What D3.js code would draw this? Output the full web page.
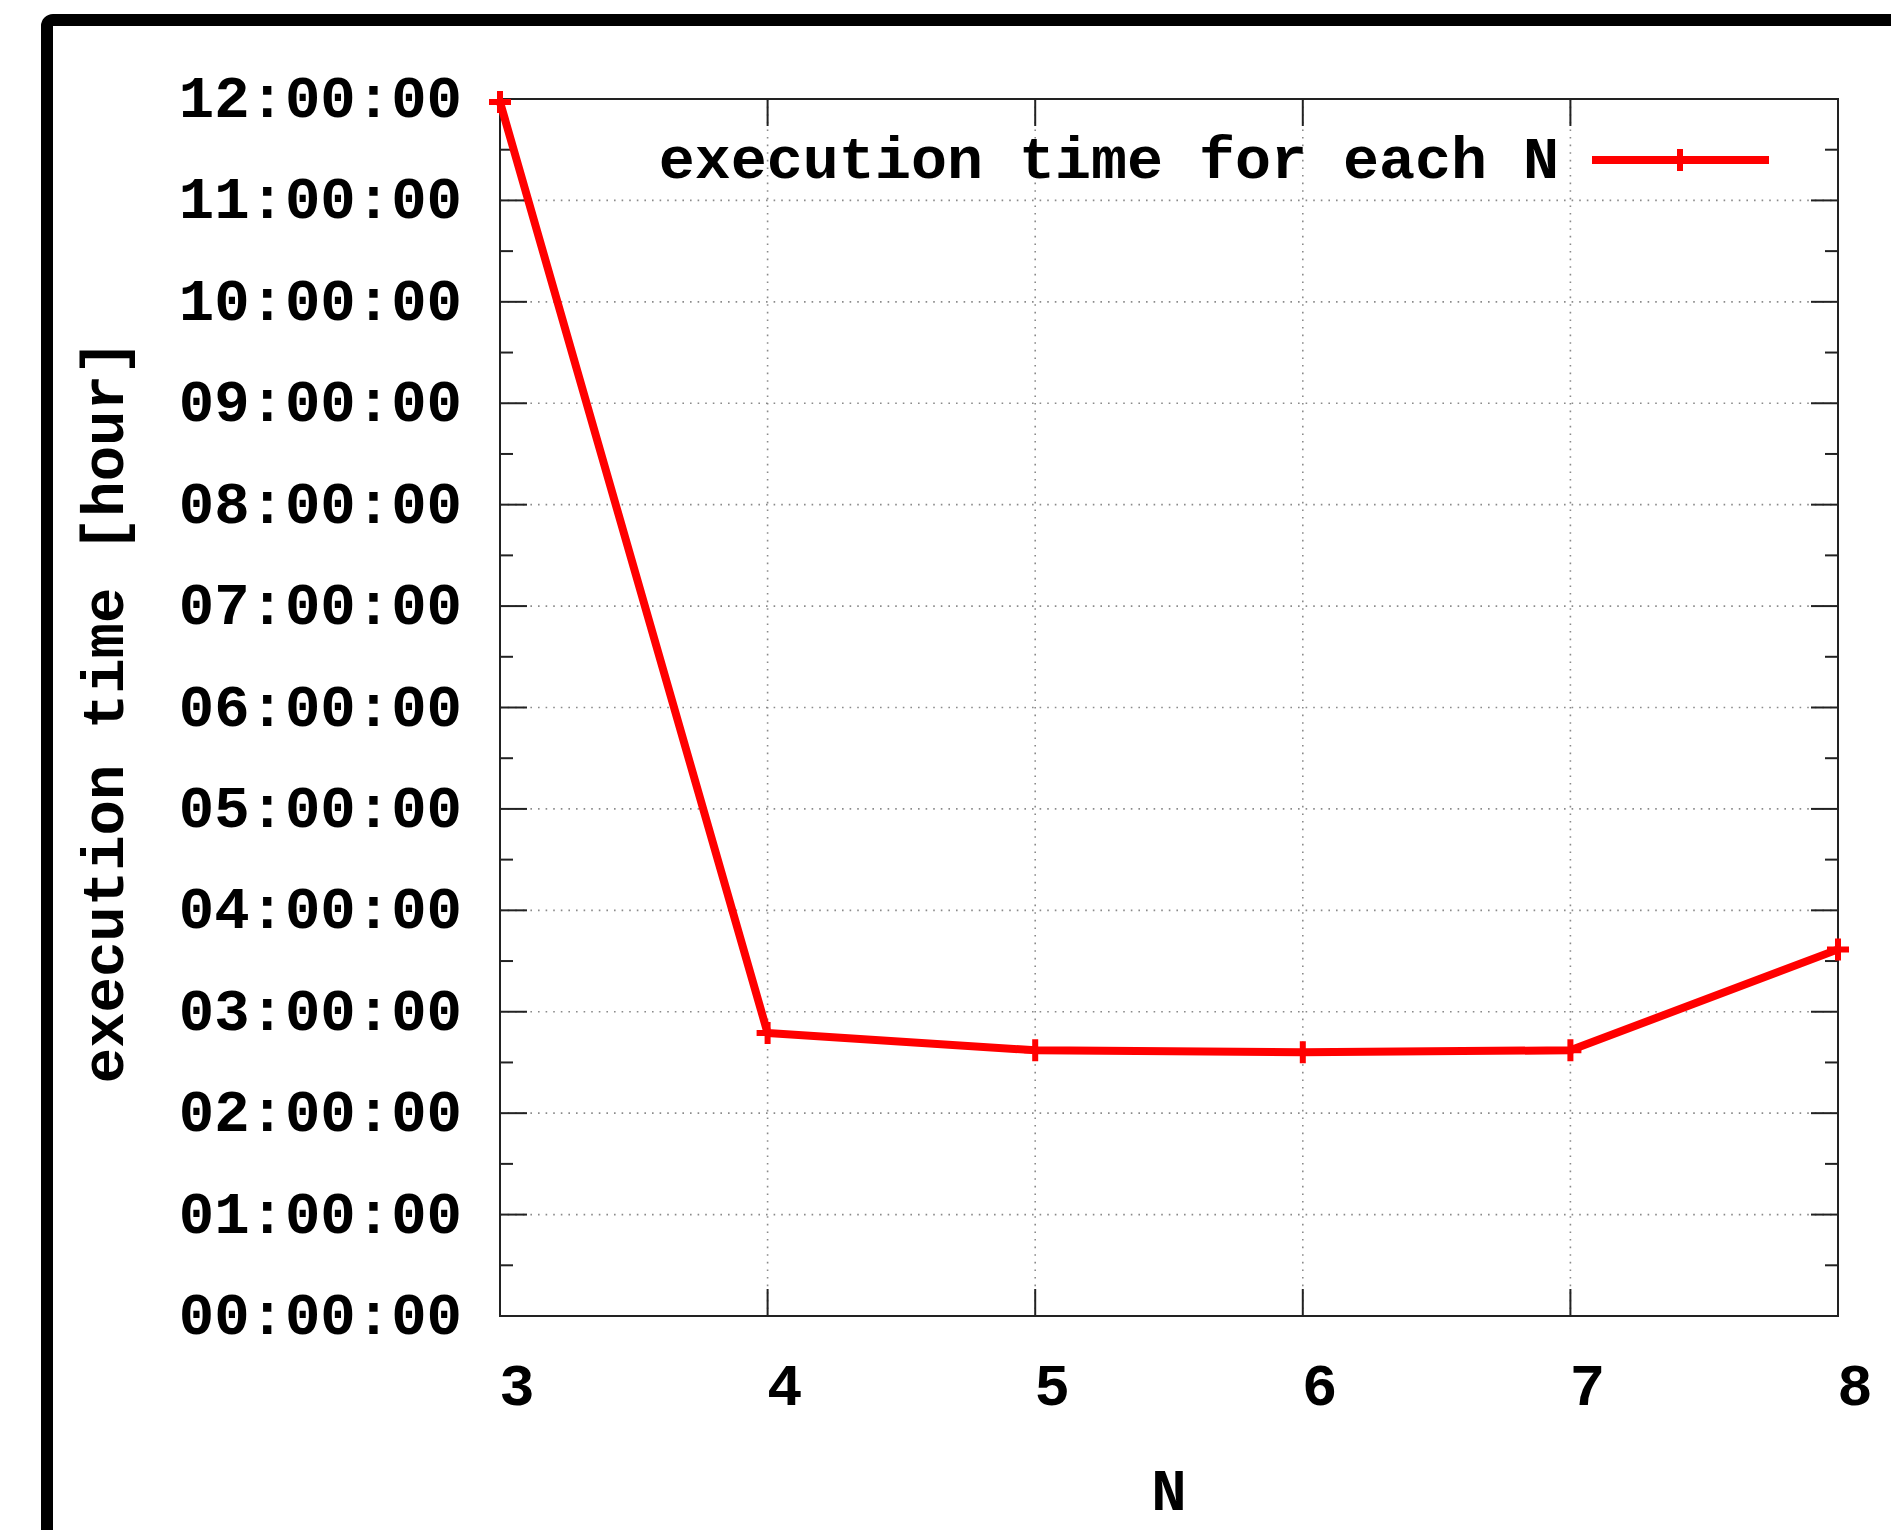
<!DOCTYPE html>
<html>
<head>
<meta charset="utf-8">
<script src="https://cdn.jsdelivr.net/npm/d3@7/dist/d3.min.js"></script>
<style>
  body { margin: 0; background: #fff; }
  text { font-family: "Liberation Mono", "Courier New", monospace; font-weight: bold; fill: #000; }
</style>
</head>
<body>
<div id="chart"></div>
<script>
// data (hours)
var nValues = [3, 4, 5, 6, 7, 8];
var execHours = [11.97, 2.79, 2.62, 2.60, 2.62, 3.615];
var yTickHours = [0, 1, 2, 3, 4, 5, 6, 7, 8, 9, 10, 11, 12];
var yMinorHours = [0.5, 1.5, 2.5, 3.5, 4.5, 5.5, 6.5, 7.5, 8.5, 9.5, 10.5, 11.5];
var xTickValues = [3, 4, 5, 6, 7, 8];
var seriesLabel = "execution time for each N";
var xTitle = "N";
var yTitle = "execution time [hour]";

var svgWidth = 1891;
var svgHeight = 1530;

var margin = { top: 99, right: 53, bottom: 214, left: 500 };
var width = svgWidth - margin.left - margin.right;
var height = svgHeight - margin.top - margin.bottom;

var svg = d3.select("#chart")
  .append("svg")
  .attr("width", svgWidth)
  .attr("height", svgHeight);

// outer frame, runs off the right and bottom edges
svg.append("rect")
  .attr("x", 47)
  .attr("y", 20)
  .attr("width", 2200)
  .attr("height", 2200)
  .attr("rx", 6)
  .attr("fill", "none")
  .attr("stroke", "#000")
  .attr("stroke-width", 12);

var chart = svg.append("g")
  .attr("transform", `translate(${margin.left}, ${margin.top})`);

var x = d3.scaleLinear().domain([3, 8]).range([0, width]);
var y = d3.scaleLinear().domain([0, 12]).range([height, 0]);

var fmtHour = d => String(d).padStart(2, "0") + ":00:00";
var majorLen = 27, minorLen = 13;

// dotted grid
var grid = chart.append("g")
  .attr("stroke", "#8a8a8a")
  .attr("stroke-width", 1.6)
  .attr("stroke-dasharray", "1.6,6");

grid.selectAll(".gy").data(yTickHours.slice(1, -1)).enter()
  .append("line")
  .attr("x1", 0).attr("x2", width)
  .attr("y1", d => y(d)).attr("y2", d => y(d));

grid.selectAll(".gx").data(xTickValues.slice(1, -1)).enter()
  .append("line")
  .attr("y1", 0).attr("y2", height)
  .attr("x1", d => x(d)).attr("x2", d => x(d));

// ticks on all four sides, pointing inward
var ticks = chart.append("g")
  .attr("stroke", "#222")
  .attr("stroke-width", 2);

[0, width].forEach(function(x0) {
  var dir = x0 === 0 ? 1 : -1;
  ticks.selectAll(null).data(yTickHours).enter()
    .append("line")
    .attr("x1", x0).attr("x2", x0 + dir * majorLen)
    .attr("y1", d => y(d)).attr("y2", d => y(d));
  ticks.selectAll(null).data(yMinorHours).enter()
    .append("line")
    .attr("x1", x0).attr("x2", x0 + dir * minorLen)
    .attr("y1", d => y(d)).attr("y2", d => y(d));
});

[0, height].forEach(function(y0) {
  var dir = y0 === 0 ? 1 : -1;
  ticks.selectAll(null).data(xTickValues).enter()
    .append("line")
    .attr("y1", y0).attr("y2", y0 + dir * majorLen)
    .attr("x1", d => x(d)).attr("x2", d => x(d));
});

// border
chart.append("rect")
  .attr("width", width)
  .attr("height", height)
  .attr("fill", "none")
  .attr("stroke", "#222")
  .attr("stroke-width", 2);

// tick labels
chart.selectAll(".ylab").data(yTickHours).enter()
  .append("text")
  .attr("x", -38)
  .attr("y", d => y(d) + 18)
  .attr("text-anchor", "end")
  .attr("font-size", "59px")
  .text(fmtHour);

chart.selectAll(".xlab").data(xTickValues).enter()
  .append("text")
  .attr("x", d => x(d) + 17)
  .attr("y", height + 89)
  .attr("text-anchor", "middle")
  .attr("font-size", "59px")
  .text(d => d);

// axis titles
chart.append("text")
  .attr("x", width / 2)
  .attr("y", height + 194)
  .attr("text-anchor", "middle")
  .attr("font-size", "59px")
  .text(xTitle);

chart.append("text")
  .attr("transform", `translate(${123 - margin.left}, ${height / 2 + 4}) rotate(-90)`)
  .attr("text-anchor", "middle")
  .attr("font-size", "59px")
  .text(yTitle);

// data line + points
var pts = nValues.map((n, i) => [n, execHours[i]]);
var line = d3.line().x(d => x(d[0])).y(d => y(d[1]));

chart.append("path")
  .datum(pts)
  .attr("d", line)
  .attr("fill", "none")
  .attr("stroke", "#ff0000")
  .attr("stroke-width", 8)
  .attr("stroke-linejoin", "round");

var plus = "M-11,0H11M0,-11V11";
chart.selectAll(".pt").data(pts).enter()
  .append("path")
  .attr("transform", d => `translate(${x(d[0])}, ${y(d[1])})`)
  .attr("d", plus)
  .attr("stroke", "#ff0000")
  .attr("stroke-width", 6);

// legend
var legend = svg.append("g");
legend.append("text")
  .attr("x", 1559)
  .attr("y", 178)
  .attr("text-anchor", "end")
  .attr("font-size", "60px")
  .text(seriesLabel);
legend.append("line")
  .attr("x1", 1592).attr("x2", 1769)
  .attr("y1", 160).attr("y2", 160)
  .attr("stroke", "#ff0000")
  .attr("stroke-width", 8);
legend.append("path")
  .attr("transform", "translate(1680, 160)")
  .attr("d", plus)
  .attr("stroke", "#ff0000")
  .attr("stroke-width", 6);
</script>
</body>
</html>
